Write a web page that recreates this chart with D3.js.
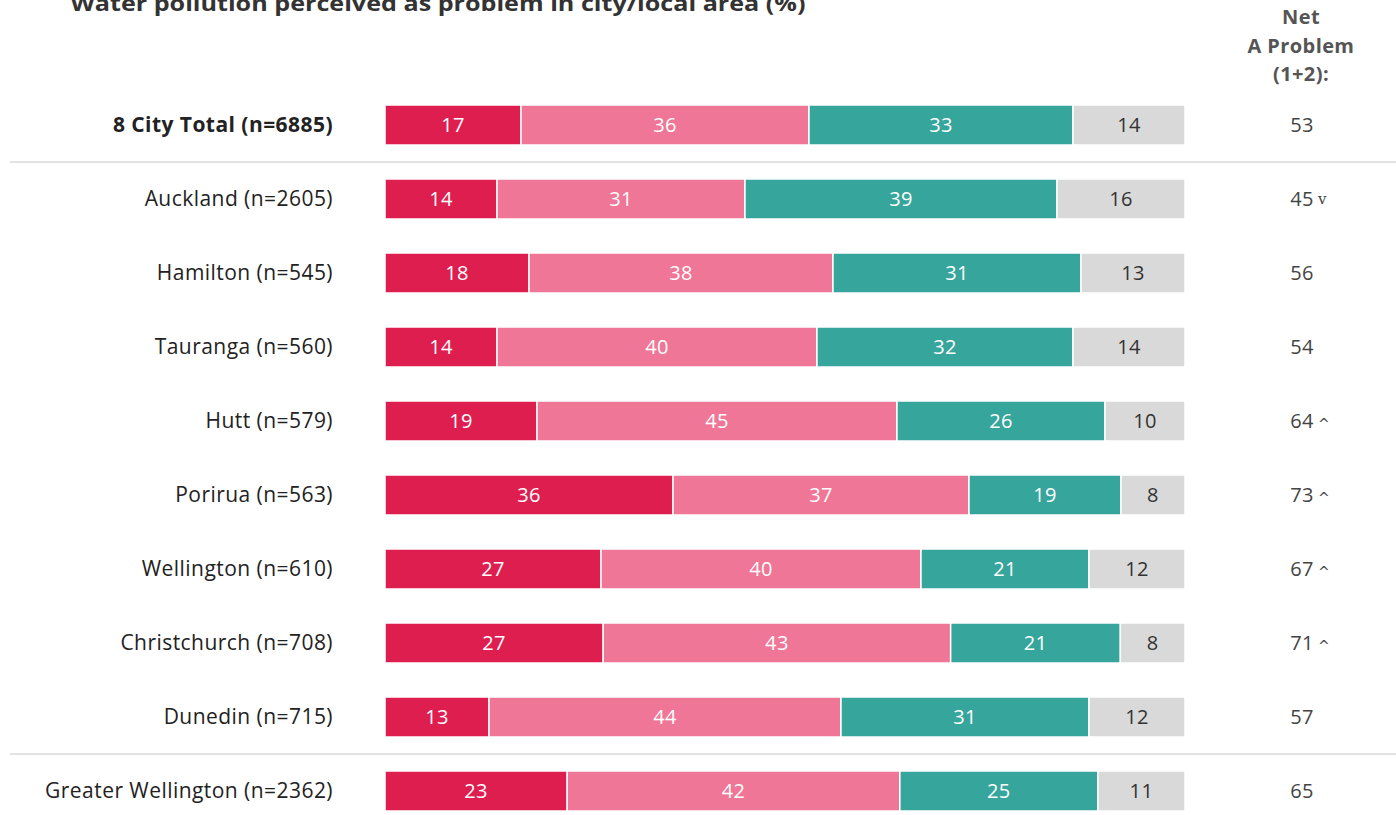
<!DOCTYPE html>
<html><head><meta charset="utf-8">
<script src="https://cdn.jsdelivr.net/npm/d3@7"></script>
<style>body{margin:0;background:#fff}svg{display:block;font-family:"Open Sans",Lato,sans-serif}</style>
</head><body><svg id="c" width="1396" height="815"></svg>
<script>
const categories = ["8 City Total (n=6885)","Auckland (n=2605)","Hamilton (n=545)","Tauranga (n=560)","Hutt (n=579)","Porirua (n=563)","Wellington (n=610)","Christchurch (n=708)","Dunedin (n=715)","Greater Wellington (n=2362)"];
const bigProblem = [17,14,18,14,19,36,27,27,13,23];
const aProblem = [36,31,38,40,45,37,40,43,44,42];
const notProblem = [33,39,31,32,26,19,21,21,31,25];
const dontKnow = [14,16,13,14,10,8,12,8,12,11];
const netProblem = [53,45,56,54,64,73,67,71,57,65];
const sigMarks = ["","v","","","^","^","^","^","",""];
const seriesNames = ["big","a","not","dk"];
const colors = ["#DF1E50","#EF7696","#36A59B","#D9D9D9"];
const textColors = ["#fff","#fff","#fff","#333"];

const svg = d3.select("#c");
const x = d3.scaleLinear().domain([0,100]).range([385,1185]);
const y = d3.scalePoint().domain(categories).range([125,791]);
const barH = 40;

const rows = categories.map((c,i)=>({cat:c, big:bigProblem[i], a:aProblem[i], not:notProblem[i], dk:dontKnow[i]}));
// shares normalised to 100% per row (rounded values may sum to 99/101)
const stack = d3.stack().keys(seriesNames).offset(d3.stackOffsetExpand)(rows);

// title
svg.append("text").attr("x",438).attr("y",11).attr("text-anchor","middle")
  .attr("font-size",22).attr("font-weight","bold").attr("fill","#333")
  .attr("textLength",735).attr("lengthAdjust","spacingAndGlyphs")
  .text("Water pollution perceived as problem in city/local area (%)");

// header
["Net","A Problem","(1+2):"].forEach((t,i)=>{
  svg.append("text").attr("x",1301).attr("y",24+i*28.5).attr("text-anchor","middle")
    .attr("font-size",20).attr("font-weight","bold").attr("fill","#555")
    .attr("letter-spacing","0.4px").text(t);
});

// separators
const sep = (a,b)=> (y(a)+y(b))/2;
[[categories[0],categories[1]],[categories[8],categories[9]]].forEach(([a,b])=>{
  svg.append("line").attr("x1",10).attr("x2",1396).attr("y1",sep(a,b)).attr("y2",sep(a,b))
    .attr("stroke","#c8c8c8").attr("stroke-width",1.2);
});

// labels
svg.selectAll(".lab").data(categories).join("text")
  .attr("x",333).attr("y",d=>y(d)).attr("dy","0.35em").attr("text-anchor","end")
  .attr("font-size",21).attr("letter-spacing","0.45px").attr("fill","#222")
  .attr("font-weight",(d,i)=>i===0?"bold":"normal")
  .text(d=>d);

// bars
const xs = v => x(v*100);
stack.forEach((s,si)=>{
  const g = svg.append("g");
  g.selectAll("rect").data(s).join("rect")
    .attr("x",d=>xs(d[0])).attr("width",d=>xs(d[1])-xs(d[0]))
    .attr("y",d=>y(d.data.cat)-barH/2).attr("height",barH)
    .attr("fill",colors[si]).attr("stroke","#fff").attr("stroke-width",1.5);
  g.selectAll("text").data(s).join("text")
    .attr("x",d=>(xs(d[0])+xs(d[1]))/2).attr("y",d=>y(d.data.cat)).attr("dy","0.36em")
    .attr("text-anchor","middle").attr("font-size",20).attr("letter-spacing","0.4px")
    .attr("fill",textColors[si])
    .text(d=>d.data[seriesNames[si]]);
});

// net values
svg.selectAll(".net").data(categories).join("text")
  .attr("x",1302).attr("y",d=>y(d)).attr("dy","0.36em").attr("text-anchor","middle")
  .attr("font-size",20).attr("letter-spacing","0.4px").attr("fill","#444").text((d,i)=>netProblem[i]);
svg.selectAll(".sig").data(categories).join("text")
  .attr("x",1318).attr("y",d=>y(d)).attr("dy",(d,i)=>sigMarks[i]==="v"?"0.3em":"0.6em")
  .attr("font-size",(d,i)=>sigMarks[i]==="v"?15:14).attr("fill","#444")
  .attr("font-family",(d,i)=>sigMarks[i]==="v"?"DejaVu Serif":"DejaVu Sans")
  .text((d,i)=>sigMarks[i]);
</script></body></html>
